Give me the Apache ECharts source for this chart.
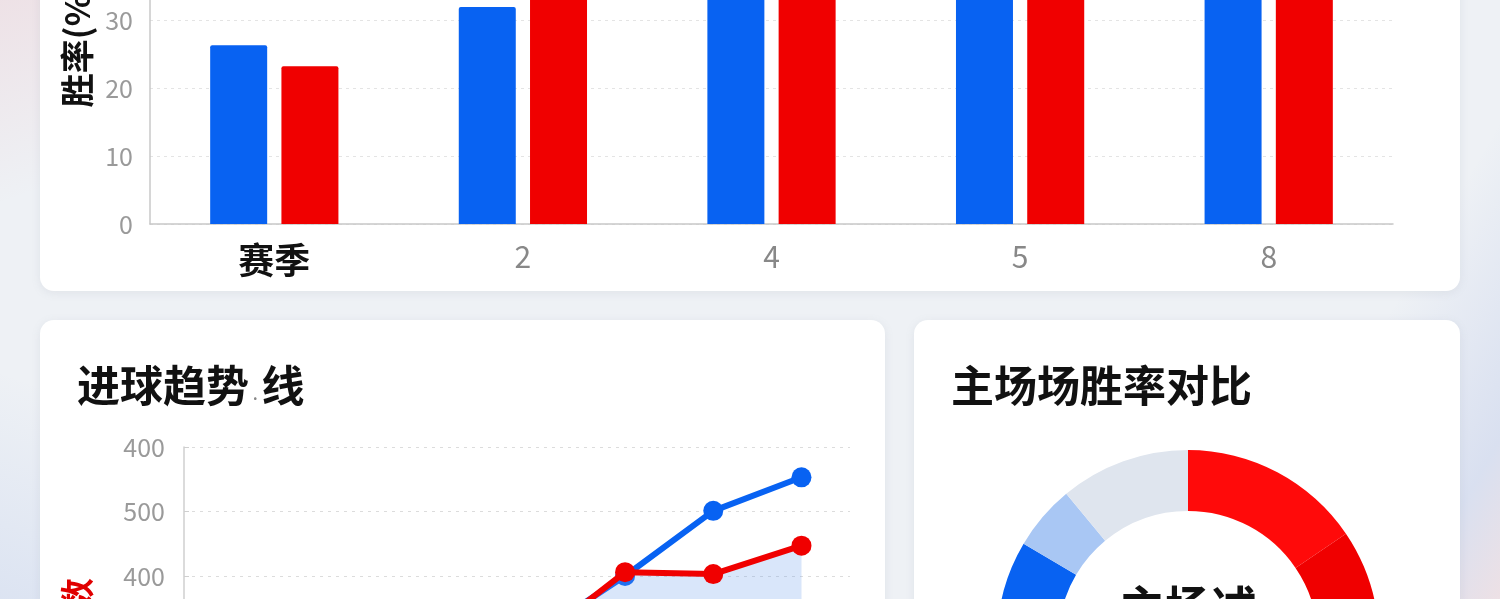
<!DOCTYPE html>
<html>
<head>
<meta charset="utf-8">
<script src="https://cdn.jsdelivr.net/npm/echarts/dist/echarts.min.js"></script>
<style>
  html, body { margin:0; padding:0; width:1500px; height:599px; overflow:hidden; }
  body {
    position:relative;
    background:
      linear-gradient(160deg, rgba(235,90,100,0.10) 0%, rgba(235,90,100,0.0) 18%),
      linear-gradient(200deg, rgba(90,130,220,0.0) 80%, rgba(90,130,220,0.12) 100%),
      linear-gradient(120deg, rgba(255,255,255,0) 85%, rgba(90,120,210,0.14) 95%, rgba(230,80,90,0.10) 100%),
      #eef1f5;
    font-family: "Noto Sans CJK SC", "Noto Sans", sans-serif;
  }
  .card { position:absolute; background:#fff; border-radius:14px; box-shadow:0 2px 10px rgba(120,130,150,0.12); }
  #chart { position:absolute; left:0; top:-200px; width:1500px; height:1000px; }
</style>
</head>
<body>
<div class="card" style="left:40px; top:-30px; width:1420px; height:321px;"></div>
<div class="card" style="left:40px; top:320px; width:845px; height:320px;"></div>
<div class="card" style="left:914px; top:320px; width:546px; height:320px;"></div>
<div id="chart"></div>
<script>
// ---- data ----
const barCategories = ['赛季', '2', '4', '5', '8'];
const barHome = [26.3, 31.9, 44, 46, 48];
const barAway = [23.2, 38, 42, 43, 45];

const lineSeasons = [1, 2, 3, 4, 5, 6, 7, 8];
const lineBlue = [60, 85, 75, 95, 110, 200, 301, 353];
const lineRed = [50, 70, 90, 80, 100, 206, 203, 247];
const lineYLabels = ['0', '100', '400', '500', '400'];

const pieNames = ['主场胜', '主场平', '客场胜', '客场平', '其他'];
const pieValues = [15.5, 34, 34, 5.5, 11];

const FONT = '"Noto Sans CJK SC", "Noto Sans", sans-serif';
const BLUE = '#0862f2';
const RED = '#f00000';
const OY = 200; // chart canvas is shifted up by this many px

const chart = echarts.init(document.getElementById('chart'), null, { renderer: 'canvas' });

const option = {
  backgroundColor: 'transparent',
  animation: false,
  textStyle: { fontFamily: FONT },
  title: [
    {
      text: '进球趋势{d|.}线', left: 72, top: 359 + OY,
      textStyle: { fontSize: 43, fontWeight: 'bold', color: '#111', fontFamily: FONT,
        rich: { d: { fontSize: 14, color: '#888', padding: [18, 4, 0, 4] } } }
    },
    {
      text: '主场场胜率对比', left: 946, top: 359 + OY,
      textStyle: { fontSize: 43, fontWeight: 'bold', color: '#111', fontFamily: FONT }
    }
  ],
  grid: [
    { left: 150, right: 107, top: 84, bottom: 576, containLabel: false },
    { left: 184, right: 650, top: 647, bottom: 95, containLabel: false }
  ],
  xAxis: [
    {
      gridIndex: 0, type: 'category', data: barCategories,
      axisLine: { lineStyle: { color: '#c8c8c8', width: 1.5 } },
      axisTick: { length: 8, lineStyle: { color: '#c8c8c8', width: 1.5 } },
      axisLabel: {
        margin: 18,
        formatter: (v, i) => i === 0 ? '{b|' + v + '}' : '{n|' + v + '}',
        rich: {
          b: { fontSize: 36, fontWeight: 'bold', color: '#111', fontFamily: FONT },
          n: { fontSize: 30, color: '#888', fontFamily: FONT }
        }
      }
    },
    {
      gridIndex: 0, type: 'category', data: barCategories, position: 'bottom',
      axisLine: { show: false },
      axisTick: { alignWithLabel: true, length: 8, lineStyle: { color: '#c8c8c8', width: 1.5 } },
      axisLabel: { show: false }, splitLine: { show: false }
    },
    {
      gridIndex: 1, type: 'value', min: 1, max: 8.55,
      axisLine: { show: false }, axisTick: { show: false }, axisLabel: { show: false }, splitLine: { show: false }
    }
  ],
  yAxis: [
    {
      gridIndex: 0, type: 'value', min: 0, max: 50, interval: 10,
      name: '胜率(%)', nameLocation: 'middle', nameGap: 56, nameRotate: 90,
      nameTextStyle: { fontSize: 34, fontWeight: 'bold', color: '#111', fontFamily: FONT, padding: [0, 0, 0, 20] },
      axisLine: { show: true, lineStyle: { color: '#c8c8c8', width: 1.5 } },
      axisTick: { show: false },
      axisLabel: { fontSize: 25, color: '#9a9a9a', margin: 17 },
      splitLine: { lineStyle: { type: [3, 4], color: '#e4e4e4' } }
    },
    {
      gridIndex: 1, type: 'value', min: 0, max: 400, interval: 100,
      axisLine: { show: true, lineStyle: { color: '#cfcfcf', width: 1.5 } },
      axisTick: { show: true, inside: true, length: 5, lineStyle: { color: '#cfcfcf' } },
      axisLabel: { fontSize: 25, color: '#9a9a9a', margin: 19, formatter: (v) => lineYLabels[Math.round(v / 100)] },
      splitLine: { lineStyle: { type: [3, 5], color: '#dcdcdc' } }
    }
  ],
  series: [
    {
      type: 'bar', xAxisIndex: 0, yAxisIndex: 0, data: barHome,
      barWidth: 57, barGap: '25%',
      itemStyle: { color: BLUE, borderRadius: [2, 2, 0, 0] }
    },
    {
      type: 'bar', xAxisIndex: 0, yAxisIndex: 0, data: barAway,
      barWidth: 57, barGap: '25%',
      itemStyle: { color: RED, borderRadius: [2, 2, 0, 0] }
    },
    {
      type: 'line', xAxisIndex: 2, yAxisIndex: 1,
      data: lineSeasons.map((s, i) => [s, lineBlue[i]]),
      symbol: 'circle', symbolSize: 20,
      lineStyle: { width: 6, color: BLUE }, itemStyle: { color: BLUE }, z: 3
    },
    {
      type: 'line', xAxisIndex: 2, yAxisIndex: 1,
      data: lineSeasons.map((s, i) => [s, lineRed[i]]),
      symbol: 'circle', symbolSize: 20,
      lineStyle: { width: 6, color: RED }, itemStyle: { color: RED },
      areaStyle: { color: 'rgba(105,155,235,0.36)' }, z: 4
    },
    {
      type: 'pie', center: [1188, 641 + OY], radius: [130, 191], startAngle: 90, clockwise: true,
      label: { show: false }, labelLine: { show: false }, silent: true,
      data: pieNames.map((n, i) => ({ name: n, value: pieValues[i] })),
      color: ['#ff0a0a', '#f00000', '#0862f2', '#a9c7f4', '#dfe5ee'],
      itemStyle: { borderWidth: 0 }
    }
  ],
  graphic: [
    {
      type: 'text', x: 77, y: 629 + OY, rotation: Math.PI / 2,
      style: { text: '进球数', align: 'center', verticalAlign: 'middle',
        font: 'bold 34px ' + FONT, fill: '#e00000' }
    },
    {
      type: 'text', x: 1188, y: 584 + OY,
      style: { text: '主场述', align: 'center', verticalAlign: 'top',
        font: 'bold 46px ' + FONT, fill: '#111' }
    }
  ]
};
chart.setOption(option);
</script>
</body>
</html>
